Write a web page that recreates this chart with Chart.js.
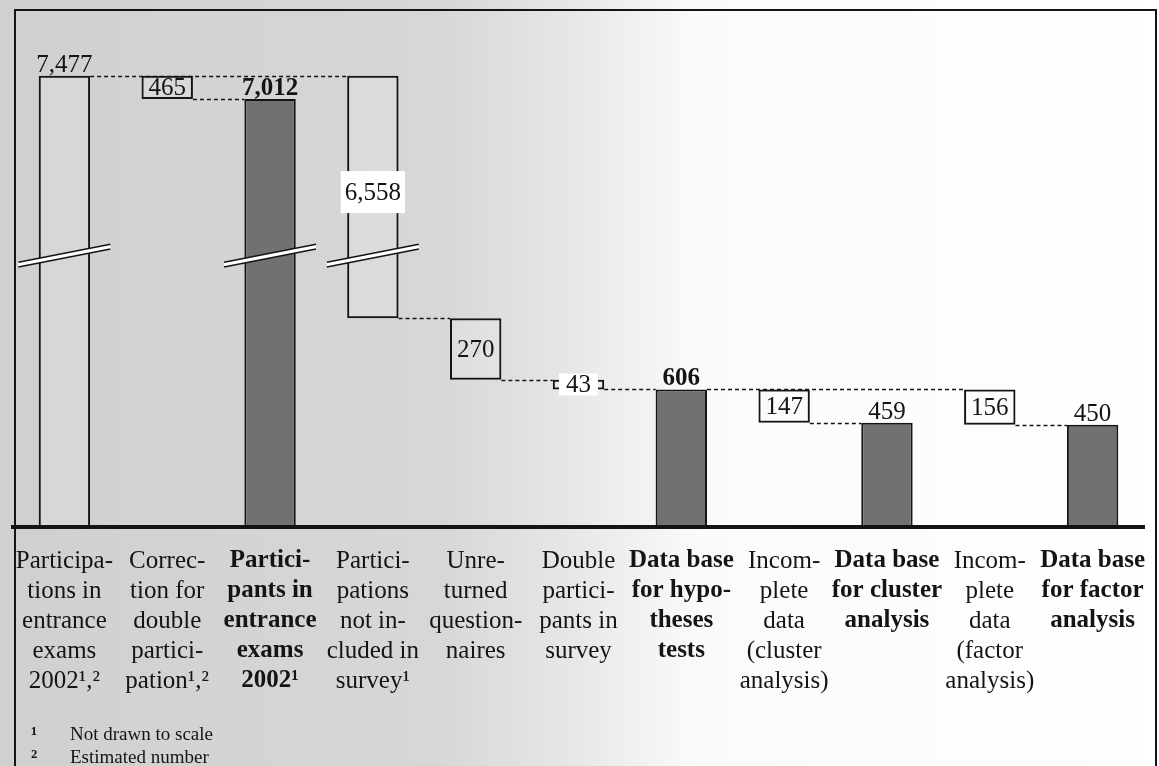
<!DOCTYPE html>
<html>
<head>
<meta charset="utf-8">
<script src="https://cdn.jsdelivr.net/npm/chart.js@4.4.1/dist/chart.umd.min.js"></script>
<style>
html, body { margin: 0; padding: 0; background: #ffffff; }
#wrap { width: 1159px; height: 766px; position: relative; }
</style>
</head>
<body>
<div id="wrap"><canvas id="c"></canvas></div>
<script>
// ---------- data ----------
const categories = [
  ["Participa-", "tions in", "entrance", "exams", "2002¹,²"],
  ["Correc-", "tion for", "double", "partici-", "pation¹,²"],
  ["Partici-", "pants in", "entrance", "exams", "2002¹"],
  ["Partici-", "pations", "not in-", "cluded in", "survey¹"],
  ["Unre-", "turned", "question-", "naires"],
  ["Double", "partici-", "pants in", "survey"],
  ["Data base", "for hypo-", "theses", "tests"],
  ["Incom-", "plete", "data", "(cluster", "analysis)"],
  ["Data base", "for cluster", "analysis"],
  ["Incom-", "plete", "data", "(factor", "analysis)"],
  ["Data base", "for factor", "analysis"]
];
const amounts   = [7477, 465, 7012, 6558, 270, 43, 606, 147, 459, 156, 450];
const kinds     = ["total", "delta", "total", "delta", "delta", "delta", "total", "delta", "total", "delta", "total"];
const dropFrom  = [null, 7477, null, 7477, 919, 649, null, 606, null, 606, null];
const emphasis  = [false, false, true, false, false, false, true, false, true, false, true];
const boldValue = [false, false, true, false, false, false, true, false, false, false, false];
const brokenBars = [0, 2, 3];
const links = [[0, 3, 7477], [1, 2, 7012], [3, 4, 919], [4, 5, 649], [5, 6, 606], [6, 9, 606], [7, 8, 459], [9, 10, 450]];
const footnotes = [["¹", "Not drawn to scale"], ["²", "Estimated number"]];
const clearLabel = [false, false, false, true, false, true, false, false, false, false, false];

const ranges = amounts.map((a, i) => kinds[i] === "total" ? [0, a] : [dropFrom[i] - a, dropFrom[i]]);

// ---------- broken (not-to-scale) value axis ----------
const BRK = { lowEnd: 1000, highStart: 6800, midFactor: 0.1447, highFactor: 0.2187, markValue: 2350 };
function warp(v) {
  if (v <= BRK.lowEnd) return v;
  const mid = BRK.lowEnd + (Math.min(v, BRK.highStart) - BRK.lowEnd) * BRK.midFactor;
  if (v <= BRK.highStart) return mid;
  return mid + (v - BRK.highStart) * BRK.highFactor;
}
function unwarp(g) {
  const g1 = BRK.lowEnd, g2 = warp(BRK.highStart);
  if (g <= g1) return g;
  if (g <= g2) return BRK.lowEnd + (g - g1) / BRK.midFactor;
  return BRK.highStart + (g - g2) / BRK.highFactor;
}
class BrokenScale extends Chart.LinearScale {
  getPixelForValue(value) {
    const a = warp(this.min), b = warp(this.max);
    return this.getPixelForDecimal((warp(value) - a) / (b - a));
  }
  getValueForPixel(pixel) {
    const a = warp(this.min), b = warp(this.max);
    return unwarp(a + this.getDecimalForPixel(pixel) * (b - a));
  }
}
BrokenScale.id = "broken";
BrokenScale.defaults = Chart.LinearScale.defaults;
Chart.register(BrokenScale);

const SERIF = "'Liberation Serif', 'Times New Roman', serif";
const INK = "#141414";

// ---------- plugins ----------
const paperPlugin = {
  id: "paper",
  beforeDraw(chart) {
    const { ctx, width, height } = chart;
    ctx.save();
    const g = ctx.createLinearGradient(0, 0, width, 0);
    g.addColorStop(0, "#d0d0d0");
    g.addColorStop(0.38, "#d7d7d7");
    g.addColorStop(0.5, "#e8e8e8");
    g.addColorStop(0.6, "#fafafa");
    g.addColorStop(1, "#ffffff");
    ctx.fillStyle = g;
    ctx.fillRect(0, 0, width, height);
    ctx.strokeStyle = INK;
    ctx.lineWidth = 2;
    ctx.strokeRect(15, 10, 1141, height + 20);
    ctx.restore();
  }
};

const linkPlugin = {
  id: "links",
  beforeDatasetsDraw(chart) {
    const { ctx } = chart;
    const meta = chart.getDatasetMeta(0);
    const y = chart.scales.y;
    ctx.save();
    ctx.strokeStyle = INK;
    ctx.lineWidth = 1.5;
    ctx.setLineDash([4, 3]);
    links.forEach(([from, to, level]) => {
      const a = meta.data[from], b = meta.data[to];
      const py = Math.round(y.getPixelForValue(level)) + 0.5;
      ctx.beginPath();
      ctx.moveTo(a.x + a.width / 2, py);
      ctx.lineTo(b.x - b.width / 2, py);
      ctx.stroke();
    });
    ctx.restore();
  }
};

const markPlugin = {
  id: "marks",
  afterDatasetsDraw(chart) {
    const { ctx } = chart;
    const meta = chart.getDatasetMeta(0);
    const y = chart.scales.y;
    ctx.save();
    // break marks
    brokenBars.forEach(i => {
      const bar = meta.data[i];
      const cy = y.getPixelForValue(BRK.markValue);
      const x0 = bar.x - 46, x1 = bar.x + 46, y0 = cy + 9, y1 = cy - 9;
      ctx.setLineDash([]);
      ctx.strokeStyle = "#ffffff";
      ctx.lineWidth = 5;
      ctx.beginPath(); ctx.moveTo(x0, y0); ctx.lineTo(x1, y1); ctx.stroke();
      ctx.strokeStyle = INK;
      ctx.lineWidth = 1.6;
      [-2.4, 2.4].forEach(d => {
        ctx.beginPath(); ctx.moveTo(x0, y0 + d); ctx.lineTo(x1, y1 + d); ctx.stroke();
      });
    });
    // value labels
    meta.data.forEach((bar, i) => {
      const txt = amounts[i].toLocaleString("en-US");
      ctx.font = (boldValue[i] ? "bold " : "") + "25px " + SERIF;
      ctx.textAlign = "center";
      ctx.fillStyle = INK;
      if (kinds[i] === "total") {
        ctx.textBaseline = "alphabetic";
        ctx.fillText(txt, bar.x, Math.min(bar.y, bar.base) - 4);
      } else {
        const top = Math.min(bar.y, bar.base), bottom = Math.max(bar.y, bar.base);
        let cy = (top + bottom) / 2;
        if (clearLabel[i]) {
          const w = ctx.measureText(txt).width;
          const big = amounts[i] > 1000;
          const pad = big ? 4 : 7;
          const hh = big ? 21 : 11;
          if (big) cy -= 5;
          ctx.fillStyle = "#ffffff";
          ctx.fillRect(bar.x - w / 2 - pad, cy - hh, w + 2 * pad, hh * 2);
          ctx.fillStyle = INK;
        }
        ctx.textBaseline = "middle";
        ctx.fillText(txt, bar.x, cy + 1);
      }
    });
    ctx.restore();
  }
};

const notePlugin = {
  id: "notes",
  afterDraw(chart) {
    const { ctx } = chart;
    ctx.save();
    ctx.fillStyle = INK;
    ctx.textBaseline = "middle";
    footnotes.forEach(([mark, text], k) => {
      const cy = 735 + k * 23;
      ctx.font = "bold 21px " + SERIF;
      ctx.textAlign = "left";
      ctx.fillText(mark, 31, cy + 1);
      ctx.font = "19px " + SERIF;
      ctx.fillText(text, 70, cy);
    });
    ctx.restore();
  }
};

// ---------- chart ----------
new Chart(document.getElementById("c"), {
  type: "bar",
  data: {
    labels: categories,
    datasets: [{
      data: ranges,
      backgroundColor: emphasis.map(e => e ? "#717171" : "rgba(255,255,255,0.15)"),
      borderColor: INK,
      borderWidth: 2,
      borderSkipped: false,
      barPercentage: 0.5,
      categoryPercentage: 1.0
    }]
  },
  options: {
    responsive: true,
    maintainAspectRatio: false,
    animation: false,
    events: [],
    layout: { padding: { left: 13, right: 15, top: 30, bottom: 59 } },
    plugins: { legend: { display: false }, tooltip: { enabled: false }, title: { display: false } },
    scales: {
      x: {
        type: "category",
        offset: true,
        grid: { display: false },
        border: { display: true, width: 4, color: INK },
        ticks: {
          autoSkip: false,
          maxRotation: 0,
          minRotation: 0,
          padding: 11,
          color: INK,
          font: (c) => ({ family: SERIF, size: 25, lineHeight: 1.2, weight: emphasis[c.index] ? "bold" : "normal" })
        }
      },
      y: {
        type: "broken",
        min: 0,
        max: 8400,
        display: false
      }
    }
  },
  plugins: [paperPlugin, linkPlugin, markPlugin, notePlugin]
});
</script>
</body>
</html>
